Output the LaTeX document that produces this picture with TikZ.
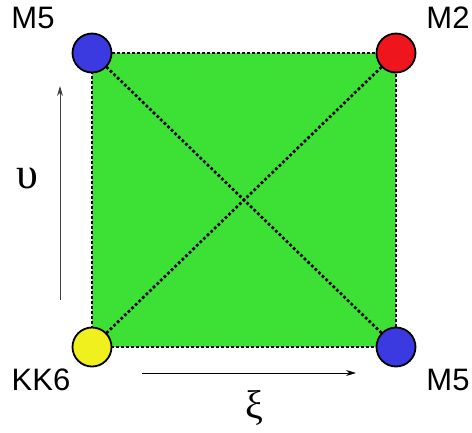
\documentclass[tikz,border=0pt]{standalone}
\usepackage{fontspec}
\setmainfont{Liberation Sans}
\newfontfamily\greekfont{Liberation Serif}
\usetikzlibrary{arrows.meta,positioning,calc}
\definecolor{plaingreen}{RGB}{61,224,52}
\definecolor{ionblue}{RGB}{58,58,224}
\definecolor{ionred}{RGB}{238,22,28}
\definecolor{ionyellow}{RGB}{240,240,30}
\begin{document}
\begin{tikzpicture}[
    x=1pt,y=-1pt,
    ion/.style={circle,draw,line width=1.8pt,minimum size=39pt,inner sep=0pt},
    edge/.style={line width=2.7pt,dash pattern=on 2.7pt off 2.3pt},
    axis/.style={line width=0.9pt,-{Stealth[length=10pt,width=6pt]}},
    lbl/.style={font=\fontsize{31}{36}\selectfont,inner sep=0pt},
    greek/.style={inner sep=0pt}
]
    \useasboundingbox (0,0) rectangle (472,432);

    % corner positions
    \coordinate (tl) at (92,53);
    \coordinate (tr) at (396,53);
    \coordinate (bl) at (92,347);
    \coordinate (br) at (396,347);

    \fill[plaingreen] (tl) rectangle (br);
    \draw[edge] (tl) -- (tr) -- (br) -- (bl) -- cycle;
    \draw[edge] (tl) -- (br);
    \draw[edge] (bl) -- (tr);

    \node[ion,fill=ionblue] (m5a) at (tl) {};
    \node[ion,fill=ionred] (m2) at (tr) {};
    \node[ion,fill=ionyellow] (kk6) at (bl) {};
    \node[ion,fill=ionblue] (m5b) at (br) {};

    \node[lbl] (m5alab) at (33,18) {M5};
    \node[lbl] (m2lab) at (448,18) {M2};
    \node[lbl] (kk6lab) at (41,380) {KK6};
    \node[lbl] (m5blab) at (448,380) {M5};

    % axes
    \coordinate (vs) at (60,300);
    \coordinate (ve) at (60,86);
    \coordinate (hs) at (142,373);
    \coordinate (he) at (356,373);
    \draw[axis,black!75] (vs) -- (ve);
    \draw[axis] (hs) -- (he);
    \node[greek,font=\greekfont\fontsize{44}{48}\selectfont] (ups) at (27,178) {υ};
    \node[greek,font=\greekfont\fontsize{40}{44}\selectfont] (xi) at (254,408) {ξ};
\end{tikzpicture}
\end{document}
